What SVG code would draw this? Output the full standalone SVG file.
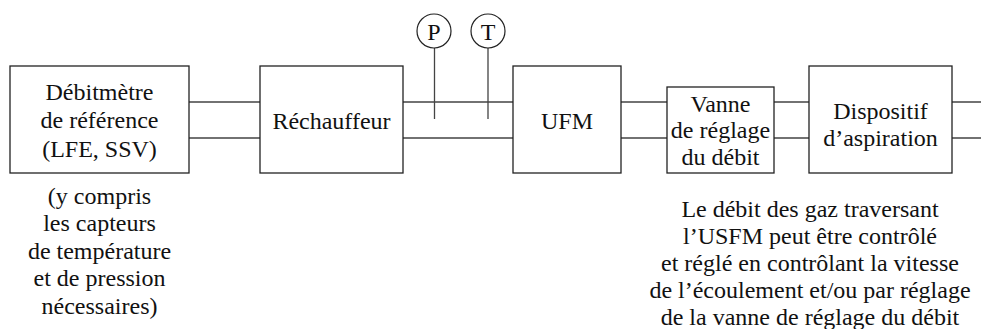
<svg xmlns="http://www.w3.org/2000/svg" width="981" height="329" viewBox="0 0 981 329">
<style>
.box{fill:#fff;stroke:#222;stroke-width:1.3}
.pipe{stroke:#444;stroke-width:1.3;fill:none}
.c{fill:#fff;stroke:#222;stroke-width:1.2}
text{font-family:'Liberation Serif','Times New Roman',Times,serif;font-size:24px;fill:#111;text-anchor:middle}
</style>
<rect width="981" height="329" fill="#fff"/>
<g id="connectors">
<path class="pipe" d="M189 102H260M189 138H260M403 102H513M403 138H513M621 102H667M621 138H667M774 102H809M774 138H809M952 102H981M952 138H981"/>
<path class="pipe" d="M434.5 48V119M488 48V119"/>
</g>
<g id="n1"><rect class="box" x="10" y="66" width="179" height="107"/>
<text x="99.5" y="100">Débitmètre</text><text x="99.5" y="128">de référence</text><text x="99.5" y="156.5">(LFE, SSV)</text></g>
<g id="n2"><rect class="box" x="260" y="66" width="143" height="107"/><text x="331.5" y="129">Réchauffeur</text></g>
<g id="nP"><circle class="c" cx="434" cy="31" r="17"/><text x="434" y="40">P</text></g>
<g id="nT"><circle class="c" cx="488" cy="31" r="17"/><text x="488" y="40">T</text></g>
<g id="n3"><rect class="box" x="513" y="66" width="108" height="107"/><text x="567" y="129">UFM</text></g>
<g id="n4"><rect class="box" x="667" y="87" width="107" height="86"/>
<text x="720.5" y="111.5">Vanne</text><text x="720.5" y="138.3">de réglage</text><text x="720.5" y="165">du débit</text></g>
<g id="n5"><rect class="box" x="809" y="66" width="143" height="107"/>
<text x="880.5" y="119.3">Dispositif</text><text x="880.5" y="146">d’aspiration</text></g>
<g id="note1">
<text x="99.5" y="203.5">(y compris</text><text x="99.5" y="231">les capteurs</text><text x="99.5" y="258.5">de température</text><text x="99.5" y="286">et de pression</text><text x="99.5" y="313.5">nécessaires)</text></g>
<g id="note2">
<text x="810" y="216.5">Le débit des gaz traversant</text><text x="810" y="243.5">l’USFM peut être contrôlé</text><text x="810" y="270.5">et réglé en contrôlant la vitesse</text><text x="810" y="297.5">de l’écoulement et/ou par réglage</text><text x="810" y="324.5">de la vanne de réglage du débit</text></g>
</svg>
